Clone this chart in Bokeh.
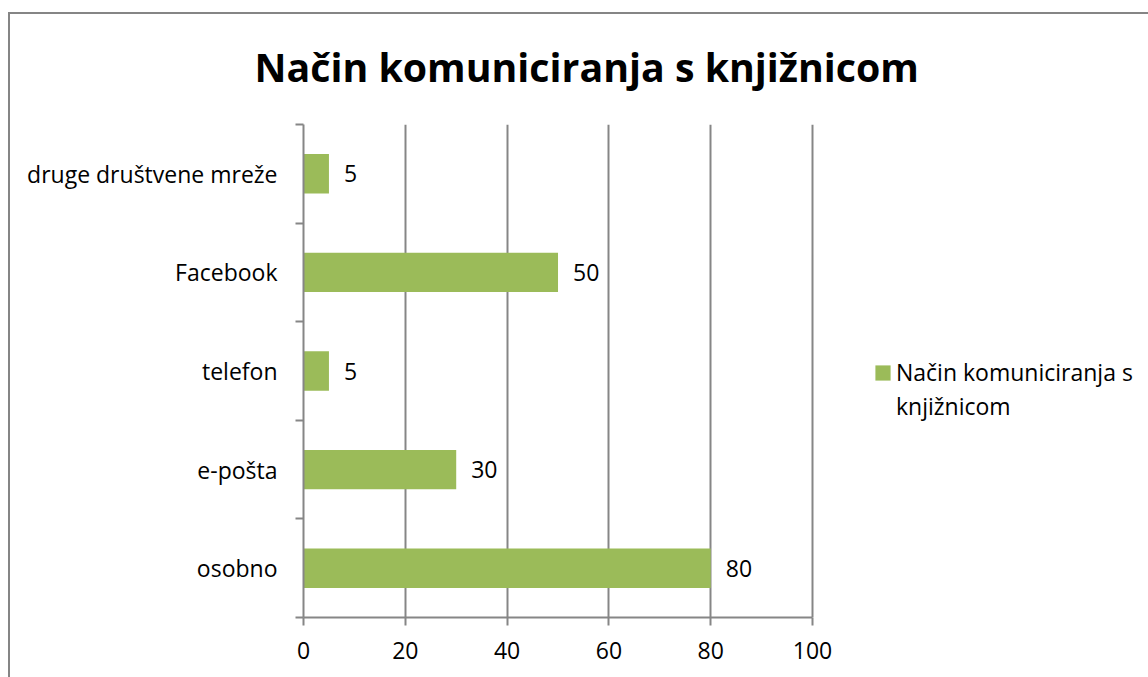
from bokeh.plotting import figure
from bokeh.models import Range1d, FixedTicker, Legend, LegendItem, ColumnDataSource
from bokeh.embed import file_html
from bokeh.resources import INLINE
from bokeh.core.properties import value

# ---- data ----
categories = ["osobno", "e-pošta", "telefon", "Facebook", "druge društvene mreže"]
counts = [80, 30, 5, 50, 5]
x_ticks = [0, 20, 40, 60, 80, 100]
title_text = "Način komuniciranja s knjižnicom"
series_label_lines = ["Način komuniciranja s", "knjižnicom"]

positions = [i + 0.5 for i in range(len(categories))]
boundaries = list(range(len(categories) + 1))
src = ColumnDataSource(dict(cat=categories, y=positions, v=counts,
                            lbl=[str(c) for c in counts]))

GRAY = "#868686"
GREEN = "#9BBB59"
FONT = "Open Sans"

# The plotting frame runs on to the right edge so that the legend can sit in it;
# the axis itself is bounded to 0..100.
X_VIEW_END = 166

p = figure(width=1148, height=677, output_backend="svg", toolbar_location=None,
           x_range=Range1d(0, X_VIEW_END), y_range=Range1d(0, len(categories)),
           min_border_left=303, min_border_right=0, min_border_top=124,
           min_border_bottom=60)
# chart-area border (left and top edges are inside the window)
p.styles = {
    "background-image": "linear-gradient(#858585, #858585), linear-gradient(#858585, #858585)",
    "background-repeat": "no-repeat",
    "background-position": "8px 12px, 8px 12px",
    "background-size": "100% 2px, 2px 100%",
}
p.outline_line_color = None
p.background_fill_color = "white"
p.border_fill_alpha = 0

# title
p.title.text = title_text
p.title.text_font = FONT
p.title.text_font_size = "39.3px"
p.title.text_font_style = "bold"
p.title.text_color = "black"
p.title.align = "left"
p.title.offset = -49
p.title.standoff = 61

# bars
r = p.hbar(y="y", left=0, right="v", height=0.4, source=src,
           fill_color=GREEN, line_color=None)

# value labels
p.text(x="v", y="y", text="lbl", source=src, x_offset=15,
       text_baseline="middle", text_align="left",
       text_font=value(FONT), text_font_size="23px", text_color="black")

# x axis
xa = p.xaxis[0]
xa.bounds = (x_ticks[0], x_ticks[-1])
xa.ticker = FixedTicker(ticks=x_ticks)
xa.axis_line_color = GRAY
xa.axis_line_width = 2
xa.major_tick_line_color = GRAY
xa.major_tick_line_width = 2
xa.major_tick_in = 0
xa.major_tick_out = 8
xa.minor_tick_line_color = None
xa.major_label_text_font = FONT
xa.major_label_text_font_size = "23px"
xa.major_label_text_color = "black"
xa.major_label_standoff = 16

# y axis
ya = p.yaxis[0]
ya.ticker = FixedTicker(ticks=positions, minor_ticks=boundaries)
ya.major_label_overrides = {pos: cat for pos, cat in zip(positions, categories)}
ya.major_tick_line_color = None
ya.major_tick_in = 0
ya.major_tick_out = 0
ya.minor_tick_line_color = GRAY
ya.minor_tick_line_width = 2
ya.minor_tick_in = 0
ya.minor_tick_out = 8
ya.axis_line_color = GRAY
ya.axis_line_width = 2
ya.major_label_text_font = FONT
ya.major_label_text_font_size = "23px"
ya.major_label_text_color = "black"
ya.major_label_standoff = 18

# grid
p.xgrid.ticker = FixedTicker(ticks=x_ticks)
p.xgrid.grid_line_color = GRAY
p.xgrid.grid_line_width = 2
p.ygrid.grid_line_color = None

# legend (label wrapped onto two lines)
legend = Legend(items=[LegendItem(label=series_label_lines[0], renderers=[r]),
                       LegendItem(label=series_label_lines[1], renderers=[])],
                location=(570, 195))
legend.border_line_color = None
legend.background_fill_alpha = 0
legend.padding = 0
legend.margin = 0
legend.spacing = 2
legend.glyph_width = 19
legend.glyph_height = 19
legend.label_standoff = 4
legend.label_text_font = FONT
legend.label_text_font_size = "23px"
legend.label_text_color = "black"
p.add_layout(legend, "center")

open("out.html", "w").write(file_html(p, INLINE))
